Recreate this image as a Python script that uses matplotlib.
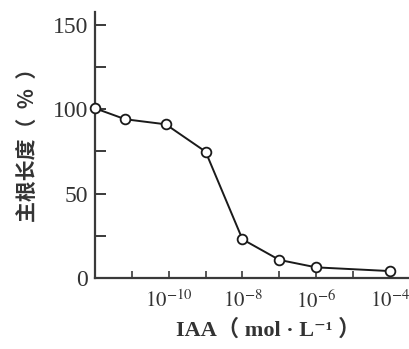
import matplotlib
matplotlib.use("Agg")
import matplotlib.pyplot as plt
from matplotlib.ticker import FixedLocator, NullFormatter

# Data
iaa_conc = [1e-12, 6.6e-12, 8.3e-11, 1e-9, 1e-8, 1e-7, 1e-6, 1e-4]
root_len = [100.5, 94.0, 91.0, 74.8, 22.9, 10.7, 6.3, 4.1]
x_major = [1e-10, 1e-8, 1e-6, 1e-4]
x_major_labels = [r"$10^{-10}$", r"$10^{-8}$", r"$10^{-6}$", r"$10^{-4}$"]
x_minor = [1e-11, 1e-9, 1e-7, 1e-5]
y_major = [0, 50, 100, 150]
y_minor = [25, 75, 125]
ylabel = "主根长度（  %  ）"
xlabel = "IAA（ mol · L⁻¹ ）"

plt.rcParams["mathtext.fontset"] = "stix"
serif = ["Liberation Serif", "DejaVu Serif", "Noto Sans CJK SC"]

fig = plt.figure(figsize=(4.10, 3.49), dpi=100)
ax = fig.add_axes([95/410, 71/349, 315/410, 266/349])

axc = "#3a3a3a"
ax.plot(iaa_conc, root_len, color="#1a1a1a", lw=1.4, marker="o", ms=7,
        mfc="white", mec="#1a1a1a", mew=1.3, zorder=3, clip_on=False)

ax.set_xscale("log")
ax.set_xlim(1e-12, 3.5e-4)
ax.set_ylim(0, 157.5)

for s in ["top", "right"]:
    ax.spines[s].set_visible(False)
for s in ["left", "bottom"]:
    ax.spines[s].set_color(axc)
    ax.spines[s].set_linewidth(1.6)

ax.xaxis.set_major_locator(FixedLocator(x_major))
ax.set_xticklabels(x_major_labels)
ax.xaxis.set_minor_locator(FixedLocator(x_minor))
ax.xaxis.set_minor_formatter(NullFormatter())
ax.yaxis.set_major_locator(FixedLocator(y_major))
ax.yaxis.set_minor_locator(FixedLocator(y_minor))

ax.tick_params(axis="x", which="both", direction="in", length=5, width=1.2,
               color=axc, pad=8, labelsize=15)
ax.tick_params(axis="y", which="both", direction="in", length=8, width=1.4,
               color=axc, pad=5, labelsize=17)
for lab in ax.get_yticklabels():
    lab.set_family(serif)
    lab.set_color("#333333")
for lab in ax.get_xticklabels():
    lab.set_color("#333333")

fig.text(28/410, 1 - 140/349, ylabel, rotation=90, ha="center", va="center",
         fontsize=15, family=["Noto Sans CJK SC", "DejaVu Sans"],
         color="#333333", fontweight="bold")
fig.text(268/410, 1 - 330/349, xlabel, ha="center", va="center",
         fontsize=16, family=serif, color="#333333", fontweight="bold")

fig.savefig("out.png", dpi=100)
